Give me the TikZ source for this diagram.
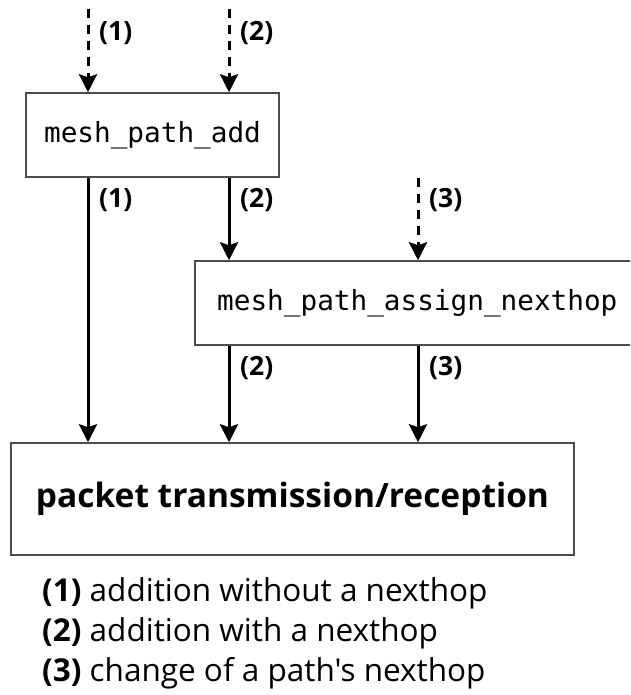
\documentclass[tikz,border=0pt]{standalone}
\usepackage{fontspec}
\setmainfont{Open Sans}[Ligatures=TeXOff]
\setmonofont{DejaVu Sans Mono}
\usetikzlibrary{arrows.meta}

\tikzset{
  funcbox/.style={draw=black!70, line width=1.5pt, fill=white, inner sep=0pt,
    font=\fontsize{27.7}{30}\selectfont\ttfamily},
  mainbox/.style={draw=black!70, line width=1.5pt, fill=white, inner sep=0pt,
    font=\fontsize{33.5}{36}\selectfont\bfseries},
  flow/.style={line width=3pt, -{Stealth[length=18pt,width=18pt,inset=3pt]}},
  trigger/.style={flow, dash pattern=on 9pt off 7pt},
  tag/.style={anchor=west, inner sep=0pt, font=\fontsize{26.5}{30}\selectfont\bfseries},
  legend/.style={anchor=west, inner sep=0pt, font=\fontsize{31.5}{36}\selectfont}
}

\begin{document}
\begin{tikzpicture}[x=1pt, y=-1pt]
  \useasboundingbox (0,0) rectangle (630,695);
  \begin{scope}
    \clip (0,0) rectangle (630,695);

    % column positions of the connectors
    \coordinate (c1) at (88,0);
    \coordinate (c2) at (229,0);
    \coordinate (c3) at (418,0);

    % boxes
    \node[funcbox, minimum width=253pt, minimum height=84pt] (add) at (152.5,135) {mesh\_path\_add};
    \node[funcbox, minimum width=452pt, minimum height=84pt, anchor=west] (assign) at (194,303) {};
    \node[font=\fontsize{27.7}{30}\selectfont\ttfamily, inner sep=0pt, anchor=west] (assigntxt) at (217,303) {mesh\_path\_assign\_nexthop};
    \node[mainbox, minimum width=563pt, minimum height=112pt] (pkt) at (292.5,499) {packet transmission/reception};

    % loose ends of the incoming triggers
    \coordinate (in1) at (88,9);
    \coordinate (in2) at (229,9);
    \coordinate (in3) at (418,178);

    % incoming triggers
    \draw[trigger] (in1) -- (add.north -| c1);
    \draw[trigger] (in2) -- (add.north -| c2);
    \draw[trigger] (in3) -- (assign.north -| c3);

    % flows
    \draw[flow] (add.south -| c1) -- (pkt.north -| c1);
    \draw[flow] (add.south -| c2) -- (assign.north -| c2);
    \draw[flow] (assign.south -| c2) -- (pkt.north -| c2);
    \draw[flow] (assign.south -| c3) -- (pkt.north -| c3);

    % case tags
    \node[tag] (t1a) at (99,33) {(1)};
    \node[tag] (t2a) at (240,33) {(2)};
    \node[tag] (t1b) at (99,200) {(1)};
    \node[tag] (t2b) at (240,200) {(2)};
    \node[tag] (t3a) at (429,200) {(3)};
    \node[tag] (t2c) at (240,368) {(2)};
    \node[tag] (t3b) at (429,368) {(3)};

    % legend
    \node[legend] (l1) at (42,593) {\textbf{(1)} addition without a nexthop};
    \node[legend] (l2) at (42,633) {\textbf{(2)} addition with a nexthop};
    \node[legend] (l3) at (42,673) {\textbf{(3)} change of a path's nexthop};
  \end{scope}
\end{tikzpicture}
\end{document}
